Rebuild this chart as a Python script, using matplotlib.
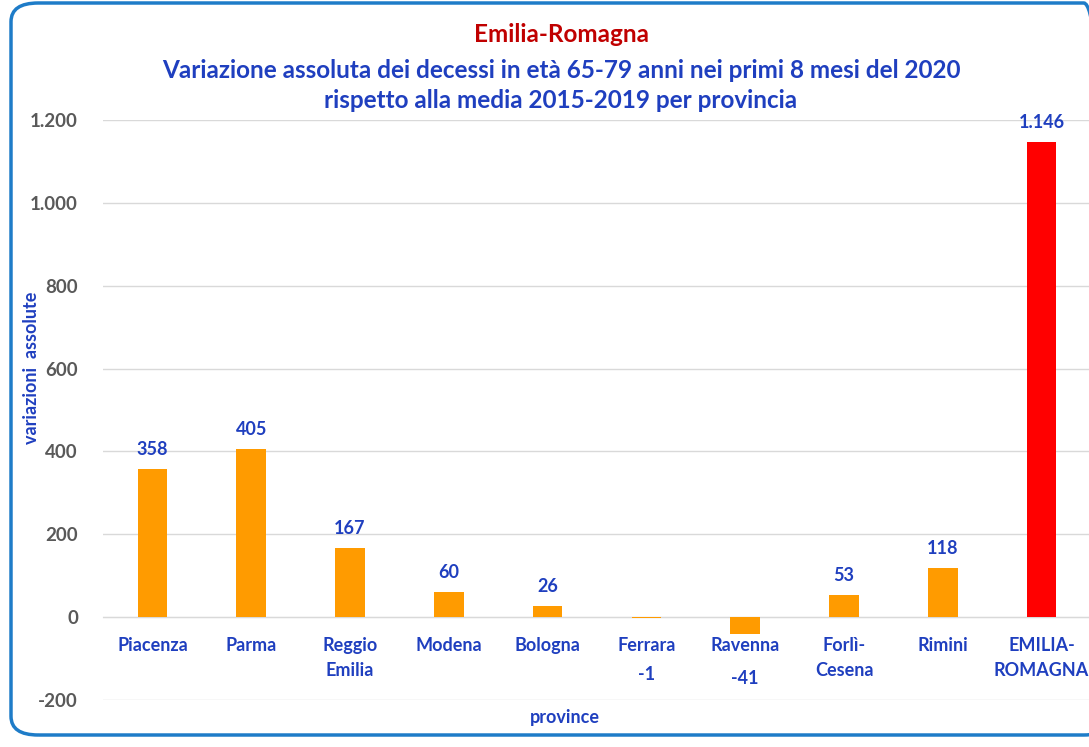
import matplotlib
matplotlib.use("Agg")
import matplotlib.pyplot as plt
from matplotlib.patches import FancyBboxPatch
from matplotlib.ticker import FuncFormatter

categories = ["Piacenza", "Parma", "Reggio\nEmilia", "Modena", "Bologna",
              "Ferrara", "Ravenna", "Forlì-\nCesena", "Rimini", "EMILIA-\nROMAGNA"]
values = [358, 405, 167, 60, 26, -1, -41, 53, 118, 1146]
value_labels = ["358", "405", "167", "60", "26", "-1", "-41", "53", "118", "1.146"]
yticks = [-200, 0, 200, 400, 600, 800, 1000, 1200]

FONT = ["Lato", "DejaVu Sans"]
BLUE = "#1F3FBF"
plt.rcParams['font.family'] = FONT

fig = plt.figure(figsize=(10.89, 7.47), dpi=100)
W, H = 1089, 747

# rounded border
border = FancyBboxPatch((11 / W, 12 / H), 1100 / W, 732 / H,
                        boxstyle="round,pad=0,rounding_size=0.025",
                        transform=fig.transFigure, fill=False,
                        edgecolor="#1E7CC8", linewidth=2.5, clip_on=False)
fig.patches.append(border)

ax = fig.add_axes([103 / W, 1 - 700 / H, 988 / W, 580 / H])
colors = ["#FF9B00"] * (len(values) - 1) + ["#FF0000"]
x = list(range(len(values)))
ax.bar(x, values, width=0.3, color=colors, zorder=3)
ax.set_xlim(-0.5, len(values) - 0.5)
ax.set_ylim(-200, 1200)
ax.set_yticks(yticks)
ax.yaxis.set_major_formatter(FuncFormatter(lambda v, p: f"{int(v):,}".replace(",", ".")))
ax.grid(axis="y", color="#D9D9D9", linewidth=1, zorder=0)
for s in ["top", "right", "left"]:
    ax.spines[s].set_visible(False)
ax.spines["bottom"].set_position(("data", 0))
ax.spines["bottom"].set_color("#D9D9D9")
ax.tick_params(axis="both", length=0)
ax.tick_params(axis="y", labelsize=13.5, labelcolor="#595959", pad=18)
ax.set_xticks(x)
ax.set_xticklabels(categories, fontsize=13, color=BLUE, fontweight="bold",
                   linespacing=1.6)
ax.tick_params(axis="x", pad=14)
for lab in ax.get_yticklabels():
    lab.set_fontweight("bold")

for i, (v, lab) in enumerate(zip(values, value_labels)):
    if v >= 0:
        ax.annotate(lab, (i, v), xytext=(0, 8), textcoords="offset points",
                    ha="center", va="bottom", fontsize=13, fontweight="bold",
                    color=BLUE)
    else:
        off = -41 if v > -10 else -32
        ax.annotate(lab, (i, v), xytext=(0, off), textcoords="offset points",
                    ha="center", va="center", fontsize=13, fontweight="bold",
                    color=BLUE)

fig.text(565 / W, 1 - 718 / H, "province", ha="center", va="center",
         fontsize=13, fontweight="bold", color=BLUE)
fig.text(32 / W, 1 - 368 / H, "variazioni  assolute", ha="center", va="center",
         rotation=90, fontsize=13, fontweight="bold", color=BLUE)

fig.text(561 / W, 1 - 35 / H, "Emilia-Romagna", ha="center", va="center",
         fontsize=17.5, fontweight="bold", color="#C00000")
fig.text(561 / W, 1 - 70 / H,
         "Variazione assoluta dei decessi in età 65-79 anni nei primi 8 mesi del 2020",
         ha="center", va="center", fontsize=17.5, fontweight="bold", color=BLUE)
fig.text(561 / W, 1 - 101 / H, "rispetto alla media 2015-2019 per provincia",
         ha="center", va="center", fontsize=17.5, fontweight="bold", color=BLUE)

fig.savefig("out.png", dpi=100)
